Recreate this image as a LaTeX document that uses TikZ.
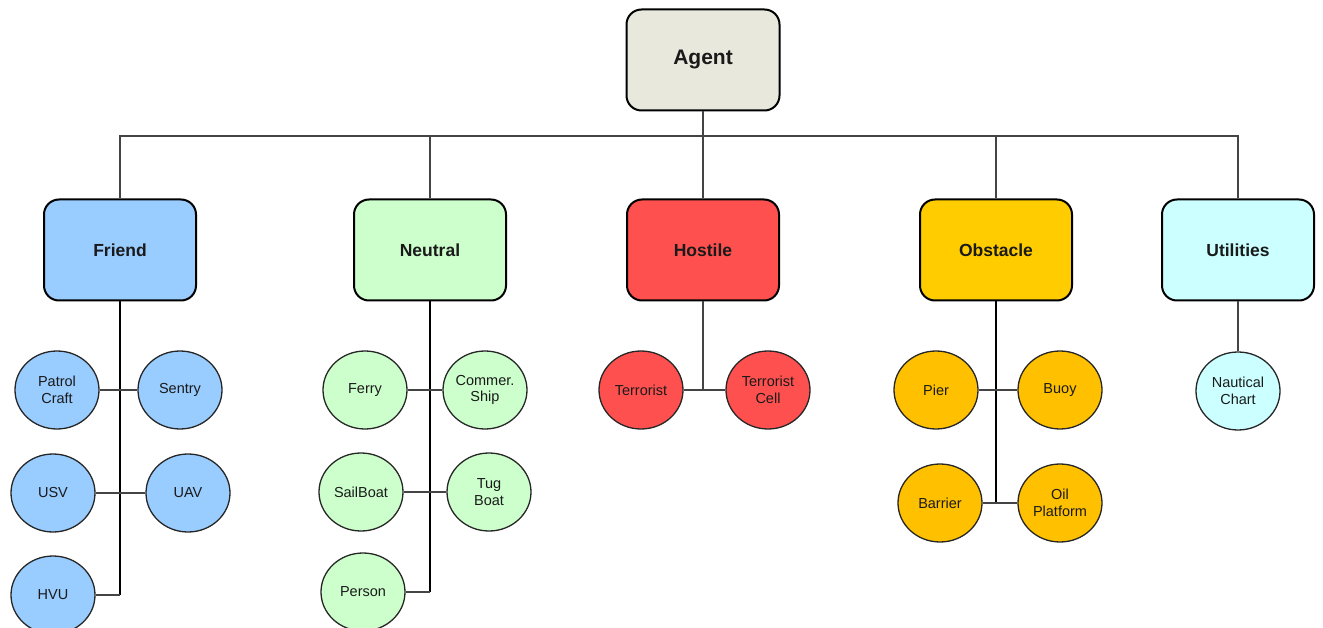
\documentclass[tikz,border=0pt]{standalone}
\usepackage{fontspec}
\setmainfont{Liberation Sans}
\usetikzlibrary{shapes.geometric}
\definecolor{agentc}{HTML}{E8E8DC}
\definecolor{friendc}{HTML}{99CCFF}
\definecolor{neutralc}{HTML}{CCFFCC}
\definecolor{hostilec}{HTML}{FF5050}
\definecolor{obstaclec}{HTML}{FFCC00}
\definecolor{obstcirc}{HTML}{FFC000}
\definecolor{utilc}{HTML}{CCFFFF}
\definecolor{linec}{HTML}{444444}
\definecolor{textc}{HTML}{1A1A1A}
\tikzset{
  catbox/.style={draw=black, line width=2pt, rounded corners=15pt, minimum width=152pt, minimum height=101pt, inner sep=0pt,
    font=\fontsize{17.5}{20}\selectfont\bfseries, text=textc},
  leaf/.style={draw=black!85, line width=1.3pt, ellipse, minimum width=84pt, minimum height=78pt, inner sep=0pt,
    font=\fontsize{14.5}{16.5}\selectfont, text=textc, align=center},
  topline/.style={draw=linec, line width=1.4pt},
  trunk/.style={draw=black, line width=2pt},
  branch/.style={draw=linec, line width=1.4pt},
}
\begin{document}
\begin{tikzpicture}[x=1pt,y=-1pt]
\useasboundingbox (0,0) rectangle (1323,628);
\fill[white] (0,0) rectangle (1323,628);
\coordinate (bar) at (0,136);
% root
\node[catbox, fill=agentc, minimum width=153pt, font=\fontsize{21}{24}\selectfont\bfseries] (agent) at (703,60) {Agent};
% categories
\node[catbox, fill=friendc] (friend) at (120,250) {Friend};
\node[catbox, fill=neutralc] (neutral) at (430,250) {Neutral};
\node[catbox, fill=hostilec] (hostile) at (703,250) {Hostile};
\node[catbox, fill=obstaclec] (obstacle) at (996,250) {Obstacle};
\node[catbox, fill=utilc] (utilities) at (1238,250) {Utilities};
% top connectors
\foreach \c in {friend,neutral,hostile,obstacle,utilities}
  \draw[topline] (agent.south) -- (agent.south |- bar) -| (\c.north);
% friend leaves
\node[leaf, fill=friendc] (patrol) at (57,390) {Patrol\\Craft};
\node[leaf, fill=friendc] (sentry) at (180,390) {Sentry};
\node[leaf, fill=friendc] (usv) at (53,493) {USV};
\node[leaf, fill=friendc] (uav) at (188,493) {UAV};
\node[leaf, fill=friendc] (hvu) at (53,595) {HVU};
\draw[trunk] (friend.south) -- (friend.south |- hvu);
\draw[branch] (friend.south |- hvu) -- (hvu.east);
\draw[branch] (patrol) -- (sentry);
\draw[branch] (usv) -- (uav);
% neutral leaves
\node[leaf, fill=neutralc] (ferry) at (365,390) {Ferry};
\node[leaf, fill=neutralc] (commer) at (485,390) {Commer.\\Ship};
\node[leaf, fill=neutralc] (sail) at (361,492) {SailBoat};
\node[leaf, fill=neutralc] (tug) at (489,492) {Tug\\Boat};
\node[leaf, fill=neutralc] (person) at (363,592) {Person};
\draw[trunk] (neutral.south) -- (neutral.south |- person);
\draw[branch] (neutral.south |- person) -- (person.east);
\draw[branch] (ferry) -- (commer);
\draw[branch] (sail) -- (tug);
% hostile leaves
\node[leaf, fill=hostilec] (terr) at (641,390) {Terrorist};
\node[leaf, fill=hostilec] (cell) at (768,390) {Terrorist\\Cell};
\draw[branch] (hostile.south) -- (hostile.south |- terr);
\draw[branch] (terr) -- (cell);
% obstacle leaves
\node[leaf, fill=obstcirc] (pier) at (936,390) {Pier};
\node[leaf, fill=obstcirc] (buoy) at (1060,390) {Buoy};
\node[leaf, fill=obstcirc] (barrier) at (940,503) {Barrier};
\node[leaf, fill=obstcirc] (oil) at (1060,503) {Oil\\Platform};
\draw[trunk] (obstacle.south) -- (obstacle.south |- barrier);
\draw[branch] (pier) -- (buoy);
\draw[branch] (barrier) -- (oil);
% utilities leaf
\node[leaf, fill=utilc] (chart) at (1238,391) {Nautical\\Chart};
\draw[branch] (utilities.south) -- (chart.north);
\end{tikzpicture}
\end{document}
